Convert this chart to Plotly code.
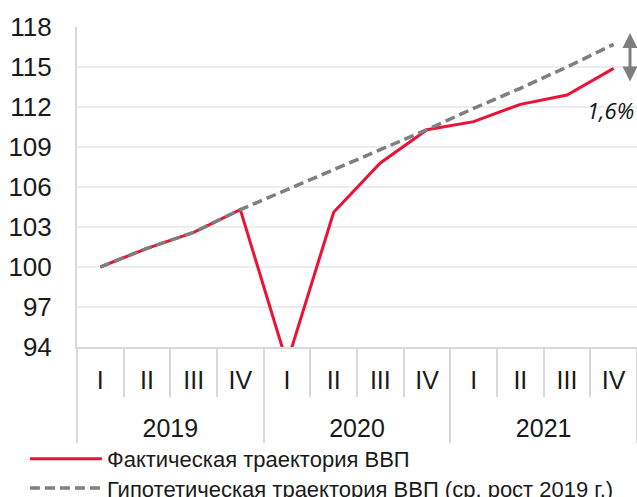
import plotly.graph_objects as go

# ---------------------------
# data
# ---------------------------
years = ["2019", "2020", "2021"]
quarters = ["I", "II", "III", "IV"]

actual = [100, 101.4, 102.6, 104.3, 92.8, 104.1, 107.8, 110.3, 110.9, 112.2, 112.9, 114.9]
hypothetical = [100, 101.4, 102.6, 104.3, 105.8, 107.3, 108.8, 110.3, 111.9, 113.4, 115.0, 116.7]

y_ticks = [94, 97, 100, 103, 106, 109, 112, 115, 118]

name_actual = "Фактическая траектория ВВП"
name_hyp = "Гипотетическая траектория ВВП (ср. рост 2019 г.)"
gap_label = "1,6%"

# positions on the quarter axis
n_q = len(quarters)
x_idx = list(range(len(years) * n_q))
quarter_text = [q for y in years for q in quarters]
year_pos = [i * n_q + (n_q - 1) / 2 for i in range(len(years))]
quarter_bounds = [i - 0.5 for i in range(len(x_idx) + 1)]
year_bounds = [i * n_q - 0.5 for i in range(len(years) + 1)]

RED = "#EC1236"
GRAY = "#7F7F7F"
AXIS = "#D9D9D9"
FONT = "Arial, Liberation Sans, sans-serif"
TXT = "#1a1a1a"

fig = go.Figure()

fig.add_trace(go.Scatter(
    x=x_idx, y=actual, name=name_actual, legend="legend",
    mode="lines", line=dict(color=RED, width=3),
))
# drawn on the overlaid year axis (same range) so it sits on top
fig.add_trace(go.Scatter(
    x=x_idx, y=hypothetical, name=name_hyp, legend="legend2",
    xaxis="x2", yaxis="y",
    mode="lines", line=dict(color=GRAY, width=3.5, dash="10px,5px"),
))

# gap arrow + label
fig.add_annotation(
    xref="paper", yref="y", x=0.9875, y=hypothetical[-1] + 0.85,
    axref="pixel", ayref="y", ax=0, ay=actual[-1] - 1.1,
    text="", showarrow=True, arrowside="end+start",
    arrowhead=2, arrowsize=1, arrowwidth=3, arrowcolor=GRAY,
)
fig.add_annotation(
    xref="paper", yref="y", x=0.999, y=111.8, xanchor="right", yanchor="middle",
    text=gap_label, showarrow=False,
    font=dict(family="Open Sans, Noto Sans, sans-serif", size=22, color="#111", style="italic"),
)

xrange = [-0.5, len(x_idx) - 0.5]

# quarter axis
fig.update_layout(xaxis=dict(
    range=xrange, automargin=False,
    showline=True, linecolor=AXIS, linewidth=2,
    tickmode="array", tickvals=x_idx, ticktext=quarter_text,
    ticks="", ticklabelstandoff=10,
    minor=dict(tickmode="array", tickvals=quarter_bounds, ticks="outside",
               ticklen=48, tickcolor=AXIS, tickwidth=2, showgrid=False),
    showgrid=False, zeroline=False,
    tickfont=dict(family=FONT, size=25, color=TXT),
))
# year axis (overlaid)
fig.update_layout(xaxis2=dict(
    range=xrange, overlaying="x", side="bottom", anchor="y",
    automargin=False, showline=False,
    tickmode="array", tickvals=year_pos, ticktext=years,
    ticks="", ticklabelstandoff=64,
    minor=dict(tickmode="array", tickvals=year_bounds, ticks="outside",
               ticklen=95, tickcolor=AXIS, tickwidth=2, showgrid=False),
    showgrid=False, zeroline=False,
    tickfont=dict(family=FONT, size=25, color=TXT),
))
fig.update_yaxes(
    range=[94, 118], tickvals=y_ticks, automargin=False,
    showline=True, linecolor=AXIS, linewidth=2,
    showgrid=True, gridcolor="#EDEDED", gridwidth=2,
    ticks="", ticklabelstandoff=18, zeroline=False,
    tickfont=dict(family=FONT, size=26, color=TXT),
)

legend_style = dict(
    x=-0.093, xanchor="left", yanchor="middle",
    orientation="v", itemwidth=72,
    font=dict(family=FONT, size=22, color=TXT),
    bgcolor="rgba(0,0,0,0)",
)

fig.update_layout(
    width=637, height=497,
    margin=dict(l=77, r=0, t=27, b=150, autoexpand=False),
    paper_bgcolor="white", plot_bgcolor="white",
    showlegend=True,
    legend=dict(legend_style, y=-0.35),
    legend2=dict(legend_style, y=-0.441),
)

# drop the default 8px page margin so the figure sits at the window corner
fig.write_html("out.html", config={"displayModeBar": False},
               post_script="document.body.style.margin='0';")
